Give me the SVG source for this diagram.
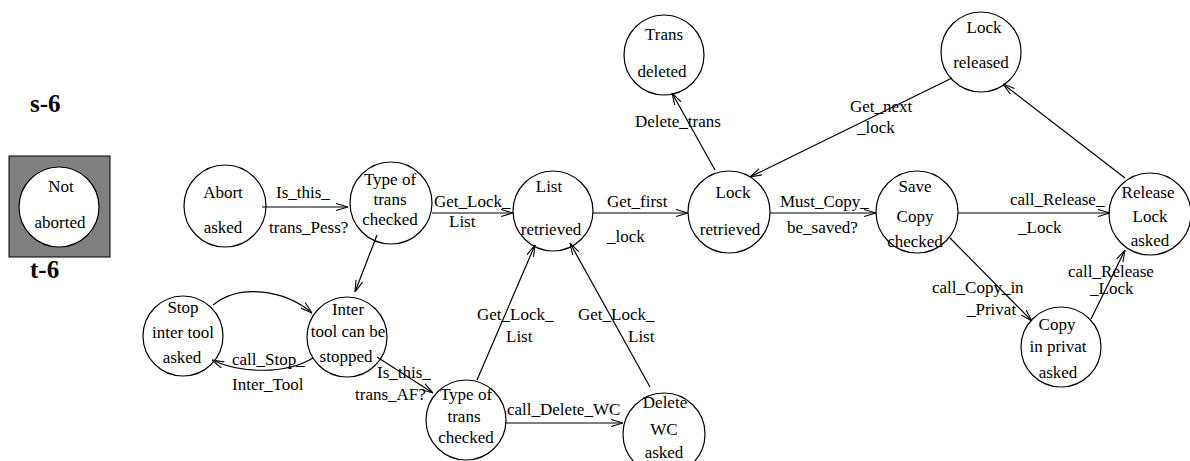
<svg xmlns="http://www.w3.org/2000/svg" width="1190" height="461" viewBox="0 0 1190 461">
<style>
text{font-family:"Liberation Serif","Times New Roman",serif;font-size:17px;fill:#000}
.n{text-anchor:middle}
.t{font-weight:bold;font-size:25px}
circle{fill:#fff;stroke:#000;stroke-width:1.2}
.c path,.c line{fill:none;stroke:#000;stroke-width:1.2;marker-end:url(#a)}
</style>
<defs>
<marker id="a" viewBox="0 0 12 8" refX="12" refY="4" markerWidth="12" markerHeight="8" orient="auto" markerUnits="userSpaceOnUse">
<path d="M0,0.5 L12,4 L0,7.5" fill="none" stroke="#000" stroke-width="1.1"/>
</marker>
</defs>
<text class="t" x="30" y="112">s-6</text>
<text class="t" x="30" y="278">t-6</text>
<g id="not_aborted">
<rect x="9" y="156" width="101" height="101" fill="#808080" stroke="#000" stroke-width="1"/>
<circle cx="59" cy="207" r="40"/>
<text class="n" x="61" y="192">Not</text>
<text class="n" x="60" y="228">aborted</text>
</g>
<g id="abort_asked"><circle cx="225" cy="206" r="41"/><text class="n" x="223" y="198">Abort</text><text class="n" x="223" y="233">asked</text></g>
<g id="type1"><circle cx="391" cy="203" r="41"/><text class="n" x="390" y="185">Type of</text><text class="n" x="390" y="205">trans</text><text class="n" x="390" y="225">checked</text></g>
<g id="list_retrieved"><circle cx="553" cy="211" r="40"/><text class="n" x="549" y="192">List</text><text class="n" x="551" y="235">retrieved</text></g>
<g id="lock_retrieved"><circle cx="729" cy="212" r="41"/><text class="n" x="733" y="198">Lock</text><text class="n" x="730" y="235">retrieved</text></g>
<g id="trans_deleted"><circle cx="664" cy="55" r="40"/><text class="n" x="664" y="40">Trans</text><text class="n" x="662" y="77">deleted</text></g>
<g id="save_copy"><circle cx="917" cy="212" r="41"/><text class="n" x="915" y="192">Save</text><text class="n" x="915" y="222">Copy</text><text class="n" x="915" y="247">checked</text></g>
<g id="release_lock"><circle cx="1150" cy="214" r="41"/><text class="n" x="1148" y="198">Release</text><text class="n" x="1150" y="222">Lock</text><text class="n" x="1150" y="246">asked</text></g>
<g id="lock_released"><circle cx="981" cy="52" r="40"/><text class="n" x="984" y="33">Lock</text><text class="n" x="981" y="68">released</text></g>
<g id="copy_privat"><circle cx="1061" cy="347" r="40"/><text class="n" x="1057" y="330">Copy</text><text class="n" x="1058" y="352">in privat</text><text class="n" x="1058" y="378">asked</text></g>
<g id="stop_inter"><circle cx="183" cy="336" r="40"/><text class="n" x="183" y="313">Stop</text><text class="n" x="183" y="338">inter tool</text><text class="n" x="182" y="363">asked</text></g>
<g id="inter_tool"><circle cx="347" cy="337" r="40"/><text class="n" x="348" y="315">Inter</text><text class="n" x="348" y="337">tool can be</text><text class="n" x="346" y="362">stopped</text></g>
<g id="type2"><circle cx="466" cy="420" r="40"/><text class="n" x="466" y="400">Type of</text><text class="n" x="464" y="422">trans</text><text class="n" x="466" y="443">checked</text></g>
<g id="delete_wc"><circle cx="664" cy="434" r="41"/><text class="n" x="665" y="408">Delete</text><text class="n" x="664" y="435">WC</text><text class="n" x="664" y="458">asked</text></g>
<g id="connectors" class="c">
<line x1="262" y1="207" x2="348" y2="207"/>
<line x1="432" y1="213" x2="513" y2="213"/>
<line x1="593" y1="213" x2="688" y2="213"/>
<line x1="770" y1="213" x2="876" y2="213"/>
<line x1="958" y1="213" x2="1110" y2="213"/>
<line x1="715" y1="170" x2="672" y2="93"/>
<line x1="952" y1="78" x2="750" y2="177"/>
<line x1="1125" y1="178" x2="1003" y2="84"/>
<line x1="950" y1="238" x2="1032" y2="321"/>
<line x1="1091" y1="319" x2="1125" y2="250"/>
<line x1="377" y1="235" x2="355" y2="292"/>
<path d="M213,305 C240,283 285,290 312,313"/>
<path d="M313,358 C285,375 240,373 212,360"/>
<line x1="377" y1="357" x2="433" y2="393"/>
<line x1="506" y1="423" x2="623" y2="423"/>
<line x1="477" y1="380" x2="535" y2="245"/>
<line x1="650" y1="387" x2="570" y2="243"/>
</g>
<g id="labels">
<text x="276" y="198">Is_this_</text>
<text x="269" y="233">trans_Pess?</text>
<text x="434" y="207">Get_Lock_</text>
<text x="449" y="227">List</text>
<text x="607" y="207">Get_first</text>
<text x="607" y="242">_lock</text>
<text x="635" y="127">Delete_trans</text>
<text x="780" y="207">Must_Copy_</text>
<text x="787" y="233">be_saved?</text>
<text x="850" y="112">Get_next</text>
<text x="857" y="133">_lock</text>
<text x="1010" y="205">call_Release_</text>
<text x="1018" y="233">_Lock</text>
<text x="932" y="293">call_Copy_in</text>
<text x="967" y="315">_Privat</text>
<text x="1068" y="277">call_Release</text>
<text x="1090" y="294">_Lock</text>
<text x="232" y="365">call_Stop_</text>
<text x="232" y="390">Inter_Tool</text>
<text x="377" y="378">Is_this_</text>
<text x="355" y="400">trans_AF?</text>
<text x="507" y="415">call_Delete_WC</text>
<text x="477" y="320">Get_Lock_</text>
<text x="506" y="342">List</text>
<text x="578" y="320">Get_Lock_</text>
<text x="628" y="342">List</text>
</g>
</svg>
